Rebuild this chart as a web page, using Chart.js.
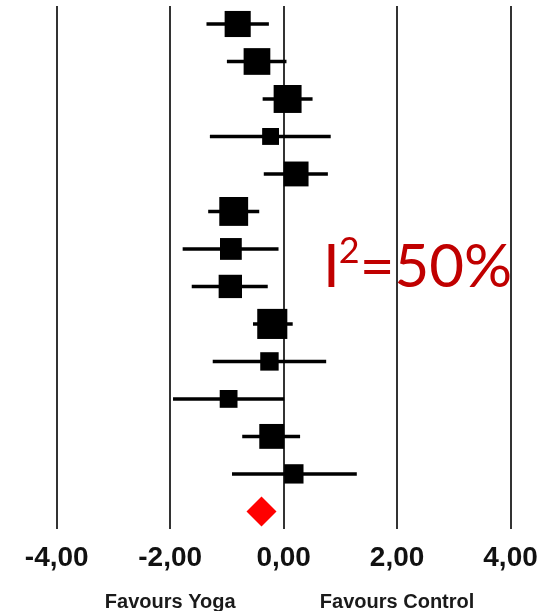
<!DOCTYPE html>
<html>
<head>
<meta charset="utf-8">
<script src="https://cdn.jsdelivr.net/npm/chart.js@4/dist/chart.umd.min.js"></script>
<style>
  html, body { margin: 0; padding: 0; background: #ffffff; }
  #wrap { width: 560px; height: 611px; position: relative; }
</style>
</head>
<body>
<div id="wrap"><canvas id="forest"></canvas></div>
<script>
// Standardised mean differences per study (top to bottom) with 95% CI
const studyEst  = [-0.81, -0.47, 0.07, -0.23, 0.22, -0.88, -0.93, -0.94, -0.20, -0.25, -0.97, -0.21, 0.18];
const ciLow     = [-1.36, -1.00, -0.37, -1.30, -0.35, -1.33, -1.78, -1.62, -0.54, -1.25, -1.95, -0.73, -0.91];
const ciHigh    = [-0.26, 0.05, 0.51, 0.83, 0.78, -0.43, -0.09, -0.28, 0.16, 0.75, 0.01, 0.29, 1.29];
const weights   = [8.5, 8.7, 9.1, 5.5, 8.1, 9.4, 7.1, 7.6, 9.8, 6.0, 5.8, 8.1, 6.3];

// Pooled estimate
const pooledEst = -0.39;
const pooledLow = -0.65;
const pooledHigh = -0.12;

const xTicks = [-4, -2, 0, 2, 4];
const sideLabels = ['Favours Yoga', 'Favours Control'];
const heterogeneity = { label: 'I', sup: '2', rest: '=50%' };

const BOX_PX_PER_WEIGHT = 3.07;
const pooledRow = studyEst.length;

const datasets = [];

// squares, size by weight
datasets.push({
    type: 'scatter',
    data: studyEst.map((x, i) => ({ x: x, y: i })),
    pointStyle: 'rect',
    pointRadius: weights.map(w => (w * BOX_PX_PER_WEIGHT) / Math.SQRT2),
    pointBackgroundColor: '#000000',
    pointBorderWidth: 0
});

// pooled diamond
datasets.push({
    type: 'scatter',
    data: [{ x: pooledEst, y: pooledRow }],
    pointStyle: 'rectRot',
    pointRadius: 15,
    pointBackgroundColor: '#ff0000',
    pointBorderWidth: 0
});

// confidence interval whiskers
studyEst.forEach((_, i) => {
    datasets.push({
        type: 'line',
        data: [{ x: ciLow[i], y: i }, { x: ciHigh[i], y: i }],
        borderColor: '#000000',
        borderWidth: 3.5,
        pointRadius: 0,
        fill: false
    });
});

const labelsPlugin = {
    id: 'forestText',
    afterDraw(chart) {
        const ctx = chart.ctx;
        const xs = chart.scales.x;
        ctx.save();

        // side captions under the axis
        ctx.fillStyle = '#1a1a1a';
        ctx.font = "bold 20px 'Liberation Sans', Arial, sans-serif";
        ctx.textAlign = 'center';
        ctx.textBaseline = 'alphabetic';
        ctx.fillText(sideLabels[0], xs.getPixelForValue(-2), 608);
        ctx.fillText(sideLabels[1], xs.getPixelForValue(2), 608);

        // heterogeneity statistic
        ctx.fillStyle = '#c00000';
        ctx.textAlign = 'left';
        let x = 323;
        const base = 287;
        ctx.font = "60px Lato, 'Open Sans', sans-serif";
        ctx.fillText(heterogeneity.label, x, base);
        x += ctx.measureText(heterogeneity.label).width - 1;
        ctx.font = "36px Lato, 'Open Sans', sans-serif";
        ctx.fillText(heterogeneity.sup, x, base - 24);
        x += ctx.measureText(heterogeneity.sup).width;
        ctx.font = "60px Lato, 'Open Sans', sans-serif";
        ctx.fillText(heterogeneity.rest, x, base);

        ctx.restore();
    }
};

new Chart(document.getElementById('forest'), {
    data: { datasets: datasets },
    options: {
        responsive: true,
        maintainAspectRatio: false,
        animation: false,
        layout: {
            autoPadding: false,
            padding: { top: 6, bottom: 0, left: 0, right: 0 }
        },
        scales: {
            x: {
                type: 'linear',
                position: 'bottom',
                min: -5.0,
                max: 4.872,
                afterBuildTicks: (scale) => {
                    scale.ticks = xTicks.map(v => ({ value: v }));
                },
                afterFit: (scale) => {
                    scale.height = 82;
                    scale.paddingLeft = 0;
                    scale.paddingRight = 0;
                    scale.paddingTop = 0;
                    scale.paddingBottom = 0;
                },
                grid: {
                    color: '#333333',
                    lineWidth: 2,
                    drawTicks: false
                },
                border: { display: false },
                ticks: {
                    padding: 12,
                    color: '#111111',
                    font: { family: "'Liberation Sans', Arial, sans-serif", size: 28, weight: 'bold' },
                    callback: (value) => value.toFixed(2).replace('.', ',')
                }
            },
            y: {
                type: 'linear',
                display: false,
                reverse: true,
                min: -0.48,
                max: 13.47
            }
        },
        plugins: {
            legend: { display: false },
            tooltip: { enabled: false }
        }
    },
    plugins: [labelsPlugin]
});
</script>
</body>
</html>
